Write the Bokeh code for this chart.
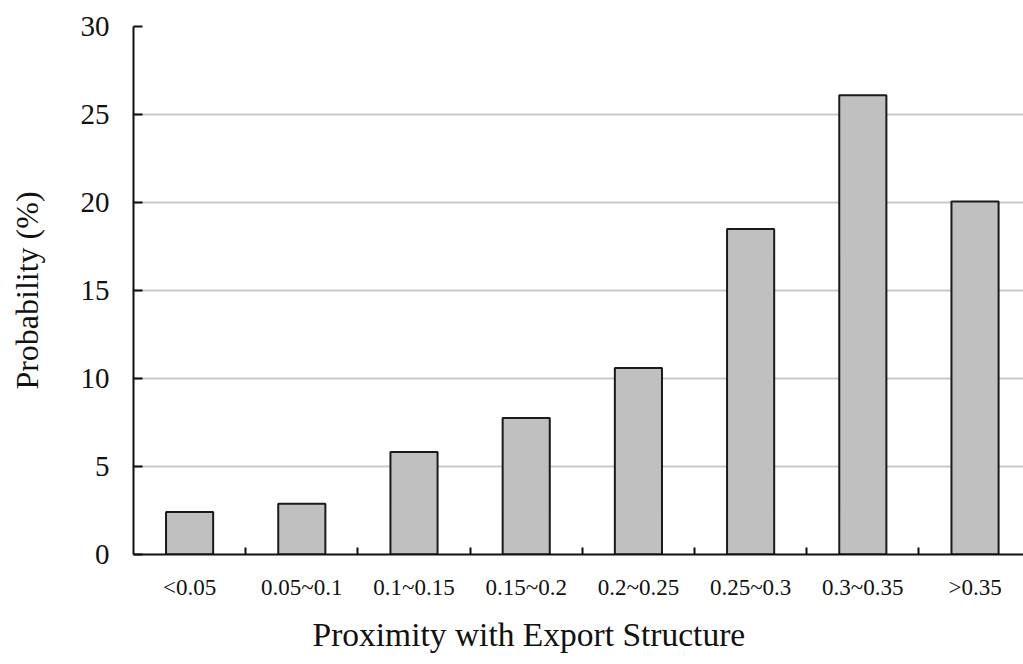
from bokeh.plotting import figure
from bokeh.models import Range1d, FixedTicker, ColumnDataSource, Title
from bokeh.embed import file_html
from bokeh.resources import INLINE

# ---- data ----
categories = ["<0.05", "0.05~0.1", "0.1~0.15", "0.15~0.2",
              "0.2~0.25", "0.25~0.3", "0.3~0.35", ">0.35"]
probability = [2.42, 2.89, 5.83, 7.75, 10.6, 18.5, 26.1, 20.05]
y_ticks = [0, 5, 10, 15, 20, 25, 30]
x_title = "Proximity with Export Structure"
y_title = "Probability (%)"

positions = list(range(len(categories)))
boundaries = [i + 0.5 for i in range(len(categories) - 1)]

source = ColumnDataSource(dict(x=positions, top=probability, cat=categories))

FONT = "Liberation Serif"
TXT = "#111111"

p = figure(width=1023, height=664, output_backend="svg", toolbar_location=None,
           x_range=Range1d(-0.5, 7.432), y_range=Range1d(0, 30),
           min_border_left=133, min_border_right=0,
           min_border_top=26, min_border_bottom=110)

p.vbar(x="x", top="top", width=0.42, bottom=0, source=source,
       fill_color="#c0c0c0", line_color="#1a1a1a", line_width=2)

p.outline_line_color = None
p.background_fill_color = "white"
p.border_fill_color = "white"

# grid
p.xgrid.grid_line_color = None
p.ygrid.ticker = FixedTicker(ticks=y_ticks)
p.ygrid.grid_line_color = "#c8c8c8"
p.ygrid.grid_line_width = 2

# y axis
p.yaxis.ticker = FixedTicker(ticks=y_ticks)
p.yaxis.axis_label = y_title
p.yaxis.axis_line_color = "#111111"
p.yaxis.axis_line_width = 2
p.yaxis.major_tick_in = 9
p.yaxis.major_tick_out = 0
p.yaxis.major_tick_line_width = 2
p.yaxis.major_tick_line_color = "#111111"
p.yaxis.minor_tick_line_color = None
p.yaxis.major_label_text_font = FONT
p.yaxis.major_label_text_font_size = "29px"
p.yaxis.major_label_text_color = TXT
p.yaxis.major_label_standoff = 24
p.yaxis.axis_label_text_font = FONT
p.yaxis.axis_label_text_font_size = "32px"
p.yaxis.axis_label_text_font_style = "normal"
p.yaxis.axis_label_text_color = TXT
p.yaxis.axis_label_standoff = 33

# x axis
p.xaxis.ticker = FixedTicker(ticks=positions, minor_ticks=boundaries)
p.xaxis.major_label_overrides = {i: c for i, c in zip(positions, categories)}
p.xaxis.axis_line_color = "#111111"
p.xaxis.axis_line_width = 2
p.xaxis.major_tick_in = 0
p.xaxis.major_tick_out = 0
p.xaxis.minor_tick_in = 7
p.xaxis.minor_tick_out = 0
p.xaxis.minor_tick_line_width = 2
p.xaxis.minor_tick_line_color = "#111111"
p.xaxis.major_label_text_font = FONT
p.xaxis.major_label_text_font_size = "23px"
p.xaxis.major_label_text_color = TXT
p.xaxis.major_label_standoff = 20

# x-axis title, placed left of centre as in the original
p.add_layout(Title(text=x_title, align="left", offset=179, standoff=22,
                   text_font=FONT, text_font_size="33.5px",
                   text_font_style="normal", text_color=TXT), "below")

open("out.html", "w").write(file_html(p, INLINE))
